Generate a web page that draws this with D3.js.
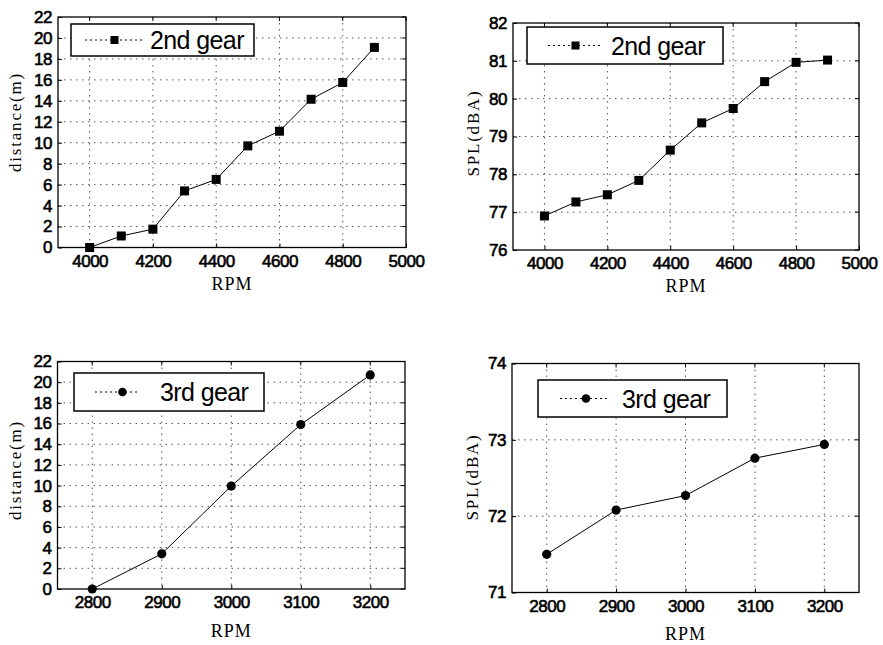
<!DOCTYPE html>
<html><head><meta charset="utf-8">
<script src="https://cdn.jsdelivr.net/npm/d3@7"></script>
<style>
html,body{margin:0;padding:0;background:#fff;}
svg{display:block;}
</style></head>
<body>
<svg id="chart" width="883" height="645"></svg>
<script>
// ---- data ----
const rpm2nd = [4000, 4100, 4200, 4300, 4400, 4500, 4600, 4700, 4800, 4900];
const distance2nd = [0, 1.1, 1.75, 5.4, 6.5, 9.7, 11.1, 14.15, 15.75, 19.1];
const spl2nd = [76.9, 77.27, 77.46, 77.84, 78.64, 79.36, 79.74, 80.45, 80.96, 81.02];
const rpm3rd = [2800, 2900, 3000, 3100, 3200];
const distance3rd = [0, 3.4, 9.95, 15.9, 20.7];
const spl3rd = [71.5, 72.08, 72.27, 72.76, 72.94];
const xTicks2nd = [4000, 4200, 4400, 4600, 4800, 5000];
const xTicks3rd = [2800, 2900, 3000, 3100, 3200];
const yTicksDist = [0, 2, 4, 6, 8, 10, 12, 14, 16, 18, 20, 22];
const yTicksSpl2 = [76, 77, 78, 79, 80, 81, 82];
const yTicksSpl3 = [71, 72, 73, 74];
const legend2nd = "2nd gear";
const legend3rd = "3rd gear";
const xLabel = "RPM";
const yLabelDist = "distance(m)";
const yLabelSpl = "SPL(dBA)";

// ---- layout ----
const panels = [
  {x: rpm2nd, y: distance2nd, xDom: [3900, 5000], yDom: [0, 22], xT: xTicks2nd, yT: yTicksDist,
   box: {l: 58, r: 406, t: 17, b: 247.5}, marker: "square", legend: legend2nd, ylab: yLabelDist,
   lg: {x0: 71, x1: 254, y0: 24, y1: 56, sx0: 85, sx1: 145, mx: 114.5, tx: 150},
   ylx: 21, ylc: 122, xlb: 290},
  {x: rpm2nd, y: spl2nd, xDom: [3900, 5000], yDom: [76, 82], xT: xTicks2nd, yT: yTicksSpl2,
   box: {l: 513, r: 859, t: 23, b: 250}, marker: "square", legend: legend2nd, ylab: yLabelSpl,
   lg: {x0: 527, x1: 723, y0: 27, y1: 64, sx0: 548, sx1: 603, mx: 575.5, tx: 611},
   ylx: 479, ylc: 133, xlb: 292},
  {x: rpm3rd, y: distance3rd, xDom: [2750, 3250], yDom: [0, 22], xT: xTicks3rd, yT: yTicksDist,
   box: {l: 57.5, r: 405, t: 361.5, b: 589}, marker: "circle", legend: legend3rd, ylab: yLabelDist,
   lg: {x0: 74, x1: 264, y0: 373, y1: 411, sx0: 95, sx1: 140, mx: 122.5, tx: 160},
   ylx: 21, ylc: 470, xlb: 637},
  {x: rpm3rd, y: spl3rd, xDom: [2750, 3250], yDom: [71, 74], xT: xTicks3rd, yT: yTicksSpl3,
   box: {l: 512, r: 859, t: 363.5, b: 592.5}, marker: "circle", legend: legend3rd, ylab: yLabelSpl,
   lg: {x0: 538, x1: 727, y0: 380, y1: 417, sx0: 560, sx1: 607, mx: 586, tx: 622},
   ylx: 478, ylc: 477, xlb: 640}
];

const svg = d3.select("#chart");
const tickFont = "Liberation Sans, Arial, sans-serif";
const serif = "Liberation Serif, Times New Roman, serif";

panels.forEach(p => {
  const b = p.box;
  const xs = d3.scaleLinear().domain(p.xDom).range([b.l, b.r]);
  const ys = d3.scaleLinear().domain(p.yDom).range([b.b, b.t]);
  const g = svg.append("g");

  // grid
  g.append("g").selectAll("line").data(p.xT.filter(v => v > p.xDom[0] && v < p.xDom[1]))
    .join("line").attr("x1", d => xs(d)).attr("x2", d => xs(d)).attr("y1", b.t).attr("y2", b.b)
    .attr("stroke", "#555").attr("stroke-width", 1).attr("stroke-dasharray", "1.5,4.5");
  g.append("g").selectAll("line").data(p.yT.filter(v => v > p.yDom[0] && v < p.yDom[1]))
    .join("line").attr("y1", d => ys(d)).attr("y2", d => ys(d)).attr("x1", b.l).attr("x2", b.r)
    .attr("stroke", "#555").attr("stroke-width", 1).attr("stroke-dasharray", "1.5,4.5");

  // axes
  const xa = g.append("g").attr("transform", `translate(0,${b.b})`)
    .call(d3.axisBottom(xs).tickValues(p.xT).tickSize(-4).tickPadding(7).tickFormat(d3.format("d")));
  const ya = g.append("g").attr("transform", `translate(${b.l},0)`)
    .call(d3.axisLeft(ys).tickValues(p.yT).tickSize(-4).tickPadding(6).tickFormat(d3.format("d")));
  [xa, ya].forEach(a => {
    a.select(".domain").remove();
    a.selectAll(".tick line").attr("stroke", "#000");
    a.selectAll(".tick text").attr("font-family", tickFont).attr("font-size", 17)
      .attr("fill", "#000").attr("stroke", "#000").attr("stroke-width", 0.6).attr("letter-spacing", -0.5);
  });
  // right/top ticks
  g.append("g").selectAll("line").data(p.yT).join("line")
    .attr("x1", b.r).attr("x2", b.r - 4).attr("y1", d => ys(d)).attr("y2", d => ys(d)).attr("stroke", "#000");
  g.append("g").selectAll("line").data(p.xT).join("line")
    .attr("y1", b.t).attr("y2", b.t + 4).attr("x1", d => xs(d)).attr("x2", d => xs(d)).attr("stroke", "#000");

  // frame
  g.append("rect").attr("x", b.l).attr("y", b.t).attr("width", b.r - b.l).attr("height", b.b - b.t)
    .attr("fill", "none").attr("stroke", "#000").attr("stroke-width", 1.3);

  // data line
  const pts = p.x.map((v, i) => [v, p.y[i]]);
  g.append("path").datum(pts)
    .attr("d", d3.line().x(d => xs(d[0])).y(d => ys(d[1])))
    .attr("fill", "none").attr("stroke", "#000").attr("stroke-width", 1);
  if (p.marker === "square") {
    g.append("g").selectAll("rect").data(pts).join("rect")
      .attr("x", d => xs(d[0]) - 4.5).attr("y", d => ys(d[1]) - 4.5).attr("width", 9).attr("height", 9)
      .attr("fill", "#000");
  } else {
    g.append("g").selectAll("circle").data(pts).join("circle")
      .attr("cx", d => xs(d[0])).attr("cy", d => ys(d[1])).attr("r", 4.6).attr("fill", "#000");
  }

  // legend
  const L = p.lg;
  const ly = (L.y0 + L.y1) / 2;
  g.append("rect").attr("x", L.x0).attr("y", L.y0).attr("width", L.x1 - L.x0).attr("height", L.y1 - L.y0)
    .attr("fill", "#fff").attr("stroke", "#000").attr("stroke-width", 1.5);
  g.append("line").attr("x1", L.sx0).attr("x2", L.sx1).attr("y1", ly).attr("y2", ly)
    .attr("stroke", "#000").attr("stroke-width", 1).attr("stroke-dasharray", "2,3");
  if (p.marker === "square") {
    g.append("rect").attr("x", L.mx - 4).attr("y", ly - 4).attr("width", 8).attr("height", 8).attr("fill", "#000");
  } else {
    g.append("circle").attr("cx", L.mx).attr("cy", ly).attr("r", 4.3).attr("fill", "#000");
  }
  g.append("text").attr("x", L.tx).attr("y", ly).attr("dy", "0.36em")
    .attr("font-family", tickFont).attr("font-size", 25).attr("letter-spacing", -0.6).text(p.legend);

  // axis labels
  g.append("text").attr("x", (b.l + b.r) / 2).attr("y", p.xlb).attr("text-anchor", "middle")
    .attr("font-family", serif).attr("font-size", 18).attr("letter-spacing", 1).text(xLabel);
  g.append("text").attr("transform", `translate(${p.ylx},${p.ylc}) rotate(-90)`)
    .attr("text-anchor", "middle").attr("font-family", serif).attr("font-size", 17)
    .attr("letter-spacing", 1.8).text(p.ylab);
});
</script>
</body></html>
